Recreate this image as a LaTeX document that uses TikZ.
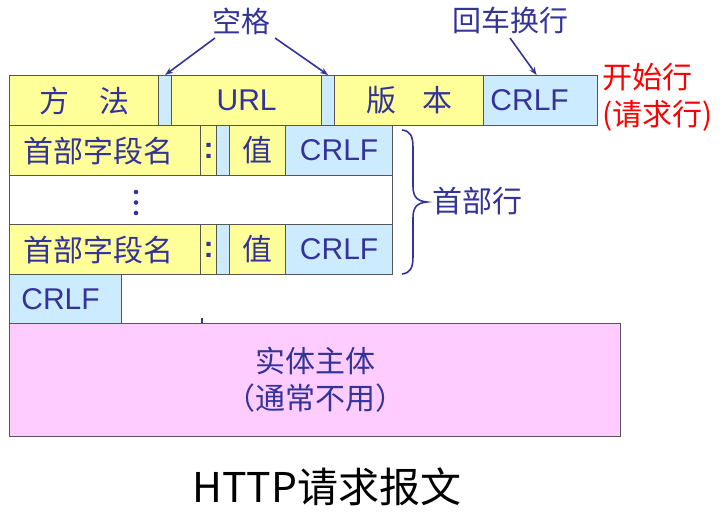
\documentclass[tikz,border=0pt]{standalone}
\usepackage{fontspec}
\setmainfont{Liberation Sans}
\newfontfamily\cjk{Noto Sans CJK SC}
\usetikzlibrary{arrows.meta}
\definecolor{cy}{HTML}{FFFF99}
\definecolor{cb}{HTML}{CCEBFF}
\definecolor{cp}{HTML}{FFCCFF}
\definecolor{tb}{HTML}{333399}
\definecolor{bd}{HTML}{555555}
\tikzset{
  cell/.style={draw=bd, line width=1.2pt, rectangle, inner sep=0pt, anchor=north west,
    text=tb, font=\fontsize{30}{34}\selectfont\cjk},
  ycell/.style={cell, fill=cy},
  bcell/.style={cell, fill=cb},
  wcell/.style={cell, fill=white},
  pcell/.style={cell, fill=cp, align=center, font=\fontsize{30}{37}\selectfont\cjk},
  lat/.style={font=\fontsize{30}{34}\selectfont},
  lbl/.style={text=tb, font=\fontsize{29}{32}\selectfont\cjk, inner sep=0pt},
  arr/.style={draw=tb, line width=1.6pt, -{Stealth[length=8pt,width=6pt]}},
}
\begin{document}
\begin{tikzpicture}[x=1pt,y=-1pt]
\useasboundingbox (0,0) rectangle (724,521);
% row 1: request line
\node[ycell, minimum width=149, minimum height=50] (meth) at (9,75) {方\quad 法};
\node[bcell, minimum width=13, minimum height=50] (sp1) at (158,75) {};
\node[ycell, lat, minimum width=150, minimum height=50] (url) at (171,75) {URL};
\node[bcell, minimum width=13, minimum height=50] (sp2) at (321,75) {};
\node[ycell, minimum width=149, minimum height=50] (ver) at (334,75) {版\kern26pt 本};
\node[bcell, lat, minimum width=114, minimum height=50] (crlf1) at (483,75) {CRLF\kern22pt};
% row 2: header line
\node[ycell, minimum width=191, minimum height=50] (hn1) at (9,125) {首部字段名\kern14pt};
\node[ycell, lat, minimum width=16, minimum height=50] (co1) at (200,125) {\bfseries :};
\node[bcell, minimum width=13, minimum height=50] (hs1) at (216,125) {};
\node[ycell, minimum width=56, minimum height=50] (hv1) at (229,125) {值};
\node[bcell, lat, minimum width=107, minimum height=50] (crlf2) at (285,125) {CRLF};
% row 3: dots
\node[wcell, minimum width=383, minimum height=49] (dots) at (9,175) {};
\fill[tb] (136,192) circle (2.3) (136,202.5) circle (2.3) (136,213) circle (2.3);
% row 4: header line
\node[ycell, minimum width=191, minimum height=50] (hn2) at (9,224) {首部字段名\kern14pt};
\node[ycell, lat, minimum width=16, minimum height=50] (co2) at (200,224) {\bfseries :};
\node[bcell, minimum width=13, minimum height=50] (hs2) at (216,224) {};
\node[ycell, minimum width=56, minimum height=50] (hv2) at (229,224) {值};
\node[bcell, lat, minimum width=107, minimum height=50] (crlf3) at (285,224) {CRLF};
% row 5: blank line
\node[bcell, lat, minimum width=112, minimum height=49] (crlf4) at (9,274) {CRLF\kern10pt};
\fill[tb] (200.5,318) rectangle (203,323);
% body
\node[pcell, minimum width=611, minimum height=113] (body) at (9,323) {实体主体\\（通常不用）};
% labels
\node[lbl] (space) at (241,21) {空格};
\node[lbl] (crlfl) at (510,20) {回车换行};
\node[lbl, text=red, anchor=west, align=left, font=\fontsize{30}{37}\selectfont\cjk] (start) at (602,97) {开始行\\(请求行)};
\node[lbl, anchor=west, font=\fontsize{30}{34}\selectfont\cjk] (hdr) at (432,201) {首部行};
\node[inner sep=0pt, font=\fontsize{41}{46}\selectfont\cjk] (title) at (327,487) {HTTP请求报文};
% arrows
\coordinate (a1) at (215,38);
\coordinate (a2) at (275,38);
\coordinate (a3) at (510,38);
\draw[arr] (a1) -- (sp1.north);
\draw[arr] (a2) -- (sp2.north);
\draw[arr] (a3) -- ([xshift=-4pt]crlf1.north);
% brace
\draw[tb, line width=1.6pt] (402,130) .. controls (411,131) and (413,137) .. (413,148)
  -- (413,186) .. controls (413,197) and (417,201) .. (427,202)
  .. controls (417,203) and (413,207) .. (413,218)
  -- (413,256) .. controls (413,267) and (411,273) .. (402,274);
\end{tikzpicture}
\end{document}
